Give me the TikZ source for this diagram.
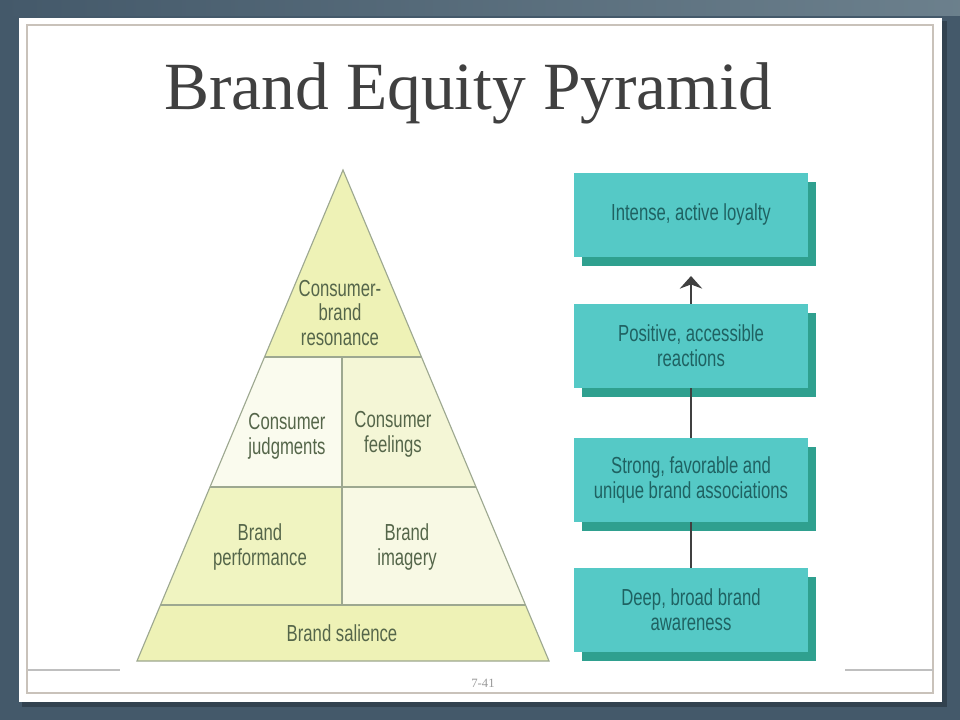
\documentclass[tikz,border=0pt]{standalone}
\usepackage{fontspec}
\setmainfont{Liberation Serif}
\newfontfamily\condsans[FakeStretch=0.72]{Liberation Sans}
\usepackage{xcolor}
\usetikzlibrary{shadows,arrows.meta}

\definecolor{frameDark}{HTML}{44596A}
\definecolor{frameLight}{HTML}{A7BAC0}
\definecolor{slideLine}{HTML}{C9C2BA}
\definecolor{titleGray}{HTML}{404040}
\definecolor{pyrYellow}{HTML}{EEF2B6}
\definecolor{pyrPale}{HTML}{FAFBEE}
\definecolor{pyrLight}{HTML}{F4F6D6}
\definecolor{pyrEdge}{HTML}{9DA890}
\definecolor{pyrText}{HTML}{55664A}
\definecolor{boxTeal}{HTML}{55C9C6}
\definecolor{boxShadow}{HTML}{2FA08F}
\definecolor{boxText}{HTML}{1F6262}

\begin{document}
\begin{tikzpicture}[x=0.025cm, y=-0.025cm,
    pyrlabel/.style={text=pyrText, align=center,
        font=\condsans\fontsize{16.5}{17.7}\selectfont},
    stage/.style={fill=boxTeal, text=boxText, align=center, inner sep=0pt,
        minimum width=5.825cm, minimum height=2.1cm,
        font=\condsans\fontsize{16.5}{17.7}\selectfont,
        drop shadow={shadow xshift=0.2cm, shadow yshift=-0.225cm, opacity=1, fill=boxShadow}},
    link/.style={draw=black!75, line width=1.2pt}]
    \useasboundingbox (0,0) rectangle (960,720);
    % frame and slide
    \fill[frameDark] (0,0) rectangle (960,720);
    \shade[left color=frameDark, middle color=frameLight, right color=frameDark!60!frameLight] (0,0) rectangle (960,16);
    \fill[black, opacity=0.25] (22,21) rectangle (947,707);
    \fill[white] (19,18) rectangle (942,702);
    \draw[slideLine, line width=0.8pt] (27,25) rectangle (933,693);
    \draw[black!25, line width=0.8pt] (28,670) -- (120,670) (845,670) -- (933,670);
    \node[text=black!40, font=\fontsize{9}{10}\selectfont] (pagenum) at (483,683) {7-41};
    \node[text=titleGray, font=\fontsize{48}{50}\selectfont, anchor=base] (title) at (468,110) {Brand Equity Pyramid};
    % pyramid
    \fill[pyrYellow] (343,170) -- (421.5,357) -- (264.5,357) -- cycle;
    \fill[pyrPale] (264.5,357) -- (342,357) -- (342,487) -- (210,487) -- cycle;
    \fill[pyrLight] (342,357) -- (421.5,357) -- (476,487) -- (342,487) -- cycle;
    \fill[pyrYellow!85!white] (210,487) -- (342,487) -- (342,605) -- (160.5,605) -- cycle;
    \fill[pyrPale!60!pyrLight] (342,487) -- (476,487) -- (525.5,605) -- (342,605) -- cycle;
    \fill[pyrYellow] (160.5,605) -- (525.5,605) -- (549,661) -- (137,661) -- cycle;
    \draw[pyrEdge, line width=0.8pt] (343,170) -- (549,661) -- (137,661) -- cycle;
    \draw[pyrEdge, line width=0.8pt] (264.5,357) -- (421.5,357) (210,487) -- (476,487)
        (160.5,605) -- (525.5,605) (342,357) -- (342,605);
    \node[pyrlabel] (resonance) at (340,313) {Consumer-\\brand\\resonance};
    \node[pyrlabel] (judgments) at (287,436) {Consumer\\judgments};
    \node[pyrlabel] (feelings) at (393,434) {Consumer\\feelings};
    \node[pyrlabel] (performance) at (260,547) {Brand\\performance};
    \node[pyrlabel] (imagery) at (407,547) {Brand\\imagery};
    \node[pyrlabel] (salience) at (342,633) {Brand salience};
    % stages
    \node[stage] (loyalty) at (691,215) {Intense, active loyalty};
    \node[stage] (reactions) at (691,346) {Positive, accessible\\reactions};
    \node[stage] (associations) at (691,480) {Strong, favorable and\\unique brand associations};
    \node[stage] (awareness) at (691,610) {Deep, broad brand\\awareness};
    \coordinate (loyaltyin) at (691,276);
    \draw[link, -{Stealth[length=9pt, width=16pt, inset=3pt]}] (reactions.north) -- (loyaltyin);
    \draw[link] (associations.north) -- (reactions.south);
    \draw[link] (awareness.north) -- (associations.south);
\end{tikzpicture}
\end{document}
